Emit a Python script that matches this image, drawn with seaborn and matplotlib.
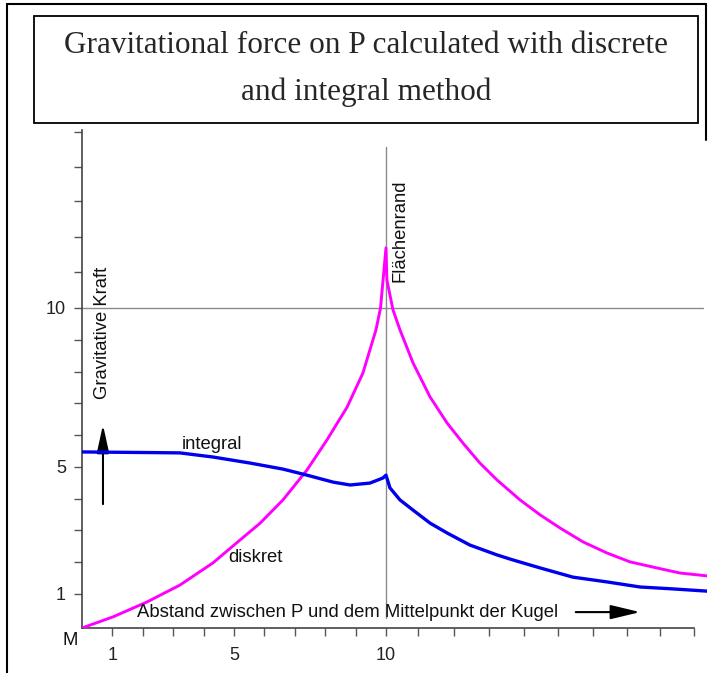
import numpy as np
import pandas as pd
import matplotlib
matplotlib.use("Agg")
import matplotlib.pyplot as plt
from matplotlib.patches import Rectangle, FancyArrowPatch
from matplotlib.lines import Line2D
import seaborn as sns

# values
diskret_x = [0.0, 1.02, 2.14, 3.22, 4.31, 5.20, 5.86, 6.61, 7.40, 8.06, 8.72, 9.24, 9.67, 9.82, 10.0,
             10.03, 10.23, 10.46, 10.89, 11.45, 12.01, 12.53, 13.09, 13.65, 14.41, 15.07,
             15.72, 16.48, 17.27, 18.03, 18.91, 19.67, 20.56]
diskret_y = [-0.07, 0.28, 0.75, 1.28, 1.98, 2.70, 3.23, 3.96, 4.90, 5.85, 6.88, 7.95, 9.31, 10.0, 11.89,
             10.88, 9.94, 9.31, 8.27, 7.20, 6.38, 5.75, 5.12, 4.59, 3.96, 3.49,
             3.08, 2.64, 2.29, 2.01, 1.82, 1.66, 1.57]
integral_x = [0.0, 2.24, 3.22, 4.31, 5.53, 6.61, 7.40, 8.26, 8.82, 9.47, 9.90, 10.0,
              10.13, 10.46, 10.89, 11.45, 12.01, 12.76, 13.65, 14.18, 15.07, 16.15, 17.27,
              18.36, 19.44, 20.56]
integral_y = [5.47, 5.45, 5.44, 5.31, 5.12, 4.93, 4.74, 4.52, 4.43, 4.49, 4.65, 4.74,
              4.34, 3.96, 3.64, 3.23, 2.92, 2.54, 2.23, 2.07, 1.82, 1.53, 1.38,
              1.22, 1.16, 1.09]

y_ticks = [1, 2, 3, 4, 5, 6, 7, 8, 9, 10, 11.13, 12.23, 13.37, 14.44, 15.54]
y_labels = {1: "1", 5: "5", 10: "10"}
x_ticks = [1, 2, 3, 4, 5, 6, 7, 8, 9, 10, 11.05, 12.24, 13.39, 14.54, 15.66,
           16.81, 17.93, 19.01, 20.13]
x_labels = {1: "1", 5: "5", 10: "10"}

title = "Gravitational force on P calculated with discrete\nand integral method"

df = pd.concat([
    pd.DataFrame({"x": diskret_x, "y": diskret_y, "method": "diskret"}),
    pd.DataFrame({"x": integral_x, "y": integral_y, "method": "integral"}),
])

sns.set_style("white")
plt.rcParams["font.family"] = ["Liberation Sans", "DejaVu Sans"]

W, H = 716, 673
fig = plt.figure(figsize=(W / 100, H / 100), dpi=100)
ax = fig.add_axes([82 / W, 1 - 628 / H, (707 - 82) / W, (628 - 130) / H])

sns.lineplot(data=df, x="x", y="y", hue="method", sort=False, estimator=None,
             palette={"diskret": "#ff00ff", "integral": "#0000ee"},
             size="method", sizes={"diskret": 2.1, "integral": 2.4},
             legend=False, ax=ax, zorder=3, solid_joinstyle="round",
             solid_capstyle="round")

ax.set_xlim(0, 20.56)
ax.set_ylim(-0.07, 15.6)
ax.set_xlabel("")
ax.set_ylabel("")

for s in ["top", "right"]:
    ax.spines[s].set_visible(False)
for s in ["left", "bottom"]:
    ax.spines[s].set_color("#444444")
    ax.spines[s].set_linewidth(1.2)
ax.spines["left"].set_bounds(-0.07, 15.6)
ax.spines["bottom"].set_bounds(0, 20.13)

ax.set_yticks(y_ticks)
ax.set_yticklabels([y_labels.get(t, "") for t in y_ticks])
ax.set_xticks(x_ticks)
ax.set_xticklabels([x_labels.get(t, "") for t in x_ticks])
ax.tick_params(axis="y", direction="out", length=5.5, width=1, color="#555555",
               labelsize=13, pad=6, labelcolor="#222222", left=True)
ax.tick_params(axis="x", direction="out", length=5.5, width=1, color="#555555",
               labelsize=13, pad=8, labelcolor="#222222", bottom=True)

# reference lines
ax.plot([0, 20.43], [10, 10], color="#8a8a8a", lw=1.0, zorder=1)
ax.plot([10, 10], [0.245, 15.07], color="#8a8a8a", lw=1.0, zorder=1)

# annotations inside the plot
txt = dict(fontsize=13.3, color="#111111")
ax.text(0.66, 9.21, "Gravitative Kraft", rotation=90, ha="center", va="center", **txt)
ax.text(10.46, 12.42, "Flächenrand", rotation=90, ha="center", va="center", **txt)
ax.text(3.29, 5.69, "integral", ha="left", va="center", **txt)
ax.text(4.80, 2.16, "diskret", ha="left", va="center", **txt)
ax.text(1.81, 0.43, "Abstand zwischen P und dem Mittelpunkt der Kugel",
        ha="left", va="center", zorder=4, **txt)
ax.text(-0.39, -0.45, "M", ha="center", va="center", clip_on=False, **txt)

ax.add_patch(FancyArrowPatch((0.69, 3.74), (0.69, 6.41),
                             arrowstyle="-|>,head_length=1.0,head_width=0.22",
                             mutation_scale=17, color="black", lw=1.5))
ax.add_patch(FancyArrowPatch((16.15, 0.43), (18.45, 0.43),
                             arrowstyle="-|>,head_length=1.0,head_width=0.24",
                             mutation_scale=18, color="black", lw=1.5))

# outer frame and title box
fig.add_artist(Line2D([7 / W, 7 / W], [0, 1 - 4 / H], color="black", lw=1.5))
fig.add_artist(Line2D([7 / W, 706 / W], [1 - 4 / H, 1 - 4 / H], color="black", lw=1.5))
fig.add_artist(Line2D([706 / W, 706 / W], [1 - 4 / H, 1 - 140 / H], color="black", lw=1.5))
fig.add_artist(Rectangle((34 / W, 1 - 123 / H), (698 - 34) / W, (123 - 16) / H,
                         transform=fig.transFigure, facecolor="white",
                         edgecolor="black", lw=1.3))
fig.text(366 / W, 1 - 53 / H, title.split("\n")[0], ha="center", va="baseline",
         fontsize=22.5, family=["Liberation Serif", "DejaVu Serif"])
fig.text(366 / W, 1 - 100 / H, title.split("\n")[1], ha="center", va="baseline",
         fontsize=22.5, family=["Liberation Serif", "DejaVu Serif"])

fig.savefig("out.png", dpi=100)
